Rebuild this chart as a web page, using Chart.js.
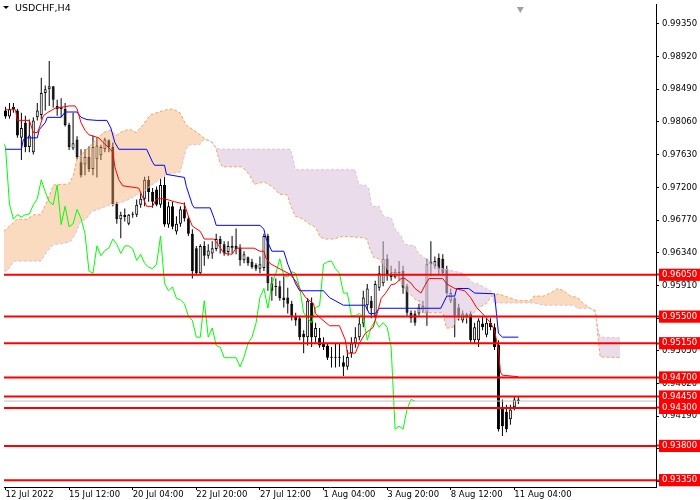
<!DOCTYPE html>
<html lang="en">
<head>
  <meta charset="UTF-8" />
  <title>USDCHF,H4</title>
  <script src="https://cdn.jsdelivr.net/npm/chart.js"></script>
  <style>
    body { margin: 0; background: #fff; }
    canvas { display: block; }
  </style>
</head>
<body>
  <canvas id="chart" width="700" height="500"></canvas>

  <script>
    const symbolTitle = 'USDCHF,H4';

    // H4 candles, bar index 0 = first visible bar
    const opens = [0.9821,0.9813,0.9823,0.9821,0.9785,0.9805,0.9773,0.9766,0.9812,0.9815,
      0.9844,0.9849,0.9853,0.9827,0.9823,0.9823,0.9802,0.9771,0.9783,0.9753,
      0.9750,0.9760,0.9744,0.9757,0.9762,0.9770,0.9782,0.9773,0.9698,0.9678,
      0.9684,0.9672,0.9684,0.9684,0.9697,0.9705,0.9730,0.9714,0.9717,0.9697,
      0.9723,0.9671,0.9695,0.9662,0.9672,0.9691,0.9679,0.9659,0.9640,0.9607,
      0.9643,0.9630,0.9633,0.9639,0.9652,0.9645,0.9635,0.9640,0.9643,0.9641,
      0.9624,0.9628,0.9622,0.9618,0.9613,0.9614,0.9656,0.9594,0.9590,0.9590,
      0.9575,0.9575,0.9567,0.9551,0.9548,0.9527,0.9523,0.9568,0.9523,0.9522,
      0.9516,0.9512,0.9497,0.9497,0.9497,0.9490,0.9484,0.9502,0.9515,0.9523,
      0.9541,0.9565,0.9571,0.9551,0.9588,0.9594,0.9626,0.9606,0.9602,0.9609,
      0.9610,0.9590,0.9555,0.9554,0.9554,0.9558,0.9555,0.9619,0.9617,0.9627,
      0.9626,0.9613,0.9571,0.9574,0.9562,0.9545,0.9553,0.9554,0.9519,0.9519,
      0.9541,0.9526,0.9542,0.9536,0.9513,0.9431,0.9425,0.9415,0.9431,0.9441];
    const highs = [0.9826,0.9831,0.9831,0.9823,0.9818,0.9814,0.9809,0.9812,0.9831,0.9864,
      0.9854,0.9886,0.9853,0.9835,0.9837,0.9831,0.9805,0.9818,0.9787,0.9770,
      0.9770,0.9774,0.9788,0.9785,0.9776,0.9785,0.9783,0.9779,0.9701,0.9688,
      0.9692,0.9685,0.9688,0.9704,0.9714,0.9734,0.9735,0.9719,0.9721,0.9732,
      0.9734,0.9701,0.9701,0.9682,0.9695,0.9700,0.9682,0.9665,0.9643,0.9645,
      0.9649,0.9645,0.9649,0.9659,0.9656,0.9649,0.9649,0.9656,0.9666,0.9645,
      0.9636,0.9629,0.9626,0.9620,0.9629,0.9659,0.9659,0.9602,0.9600,0.9597,
      0.9603,0.9588,0.9571,0.9555,0.9551,0.9532,0.9574,0.9575,0.9542,0.9535,
      0.9523,0.9515,0.9510,0.9515,0.9515,0.9499,0.9506,0.9523,0.9536,0.9551,
      0.9584,0.9593,0.9577,0.9597,0.9617,0.9649,0.9632,0.9617,0.9613,0.9623,
      0.9617,0.9593,0.9558,0.9558,0.9567,0.9571,0.9626,0.9649,0.9629,0.9633,
      0.9632,0.9617,0.9587,0.9576,0.9567,0.9558,0.9555,0.9557,0.9542,0.9548,
      0.9551,0.9548,0.9548,0.9541,0.9519,0.9441,0.9434,0.9434,0.9445,0.9445];
    const lows = [0.9810,0.9810,0.9818,0.9785,0.9756,0.9766,0.9766,0.9763,0.9808,0.9809,
      0.9821,0.9827,0.9825,0.9814,0.9812,0.9800,0.9769,0.9769,0.9757,0.9733,
      0.9736,0.9740,0.9736,0.9733,0.9756,0.9766,0.9766,0.9695,0.9672,0.9653,
      0.9675,0.9670,0.9680,0.9681,0.9693,0.9695,0.9701,0.9693,0.9695,0.9693,
      0.9668,0.9667,0.9665,0.9658,0.9668,0.9675,0.9656,0.9600,0.9606,0.9606,
      0.9617,0.9626,0.9626,0.9636,0.9633,0.9630,0.9630,0.9633,0.9632,0.9617,
      0.9620,0.9617,0.9613,0.9610,0.9607,0.9610,0.9584,0.9571,0.9577,0.9571,
      0.9562,0.9554,0.9545,0.9538,0.9519,0.9502,0.9512,0.9510,0.9516,0.9509,
      0.9506,0.9493,0.9483,0.9483,0.9484,0.9472,0.9480,0.9496,0.9509,0.9519,
      0.9536,0.9558,0.9548,0.9548,0.9584,0.9590,0.9597,0.9597,0.9600,0.9597,
      0.9580,0.9551,0.9542,0.9538,0.9551,0.9555,0.9538,0.9603,0.9613,0.9606,
      0.9603,0.9578,0.9568,0.9523,0.9545,0.9542,0.9541,0.9516,0.9515,0.9510,
      0.9532,0.9523,0.9532,0.9506,0.9399,0.9393,0.9398,0.9408,0.9427,0.9435];
    const closes = [0.9813,0.9823,0.9826,0.9788,0.9798,0.9773,0.9788,0.9808,0.9821,0.9844,
      0.9849,0.9853,0.9835,0.9823,0.9826,0.9802,0.9773,0.9778,0.9760,0.9736,
      0.9760,0.9744,0.9773,0.9775,0.9773,0.9783,0.9773,0.9698,0.9678,0.9684,
      0.9681,0.9684,0.9685,0.9697,0.9705,0.9730,0.9714,0.9701,0.9697,0.9723,
      0.9671,0.9695,0.9668,0.9672,0.9691,0.9679,0.9659,0.9610,0.9607,0.9643,
      0.9630,0.9637,0.9640,0.9652,0.9645,0.9633,0.9643,0.9643,0.9639,0.9624,
      0.9632,0.9620,0.9615,0.9613,0.9619,0.9656,0.9594,0.9584,0.9589,0.9574,
      0.9572,0.9567,0.9551,0.9545,0.9523,0.9523,0.9571,0.9523,0.9535,0.9512,
      0.9510,0.9496,0.9496,0.9496,0.9496,0.9484,0.9497,0.9515,0.9523,0.9541,
      0.9575,0.9587,0.9561,0.9593,0.9607,0.9626,0.9604,0.9602,0.9609,0.9607,
      0.9588,0.9555,0.9548,0.9542,0.9562,0.9564,0.9619,0.9622,0.9623,0.9613,
      0.9607,0.9581,0.9581,0.9551,0.9551,0.9554,0.9549,0.9519,0.9536,0.9545,
      0.9536,0.9542,0.9536,0.9510,0.9402,0.9406,0.9402,0.9428,0.9441,0.9439];

    // Ichimoku lines as [bar, price]
    const tenkan = [[0,0.9822],[2.5,0.9822],[3,0.9808],[6,0.9808],[7,0.9792],[8,0.9792],[8.5,0.9798],[9.5,0.9814],
      [10.5,0.9818],[12.5,0.9824],[15,0.9826],[16,0.9827],[17.5,0.9827],[18,0.9823],[19,0.9805],[20,0.9795],
      [21,0.9789],[23.5,0.9785],[24.5,0.9779],[26,0.9772],[27,0.9766],[27.5,0.9747],[28.5,0.9730],[29.5,0.9722],
      [33.5,0.9719],[35,0.9701],[35.5,0.9695],[37,0.9695],[38,0.9705],[40,0.9705],[42.5,0.9701],[45,0.9698],
      [46,0.9682],[47,0.9669],[49,0.9662],[50,0.9652],[52.5,0.9652],[55,0.9633],[57,0.9632],[58,0.9640],
      [62.5,0.9640],[64,0.9636],[65,0.9636],[65.5,0.9627],[66.5,0.9620],[67.5,0.9617],[70,0.9610],[71.5,0.9606],
      [73,0.9597],[74,0.9587],[75.5,0.9575],[77.5,0.9567],[78,0.9554],[79,0.9549],[81.5,0.9538],[84,0.9538],
      [85.5,0.9519],[86,0.9502],[88,0.9502],[89,0.9515],[90.5,0.9528],[92.5,0.9536],[93.5,0.9554],[94.5,0.9574],
      [95.5,0.9580],[97,0.9592],[98,0.9593],[99.5,0.9600],[100.5,0.9600],[102,0.9594],[103,0.9587],[104.5,0.9581],
      [105.5,0.9591],[106.5,0.9600],[110,0.9600],[111,0.9593],[113,0.9587],[115.5,0.9584],[117,0.9575],[118.5,0.9562],
      [120.5,0.9551],[122,0.9542],[123,0.9532],[124,0.9506],[124.5,0.9477],[125,0.9473],[129,0.9471]];
    const kijun = [[0,0.9770],[4,0.9770],[4.5,0.9783],[5,0.9785],[8,0.9785],[8.5,0.9796],[10,0.9805],[10.5,0.9812],
      [14,0.9812],[15,0.9819],[18,0.9819],[19,0.9812],[20.5,0.9809],[23,0.9808],[25.5,0.9808],[26.5,0.9798],
      [27.5,0.9779],[28.5,0.9770],[35.5,0.9770],[37,0.9753],[37.5,0.9749],[40,0.9749],[40.5,0.9737],[45,0.9733],
      [45.5,0.9721],[47,0.9697],[47.5,0.9693],[51.5,0.9693],[52.5,0.9679],[53,0.9670],[64,0.9670],[65,0.9665],
      [65.5,0.9653],[67,0.9636],[70,0.9636],[71,0.9619],[73,0.9593],[74,0.9584],[80,0.9584],[81.5,0.9575],
      [85,0.9565],[90.5,0.9565],[91.5,0.9554],[93,0.9554],[94,0.9561],[109.5,0.9561],[111,0.9577],[113,0.9577],
      [113.5,0.9587],[116.5,0.9587],[118,0.9581],[123,0.9580],[123.5,0.9554],[124,0.9528],[125,0.9523],[129,0.9523]];
    const senkouA = [[-0.4,0.9662],[1.4,0.9671],[2.9,0.9678],[5.4,0.9678],[7.1,0.9684],[8.9,0.9684],[10.4,0.9701],
      [12.1,0.9723],[13.9,0.9724],[15.9,0.9724],[17.1,0.9736],[17.9,0.9756],[19.6,0.9766],[21.4,0.9775],[22.9,0.9783],
      [24.6,0.9792],[26.4,0.9795],[27.9,0.9788],[28.9,0.9792],[30.1,0.9795],[31.4,0.9796],[32.9,0.9792],[34.6,0.9802],
      [36.4,0.9815],[40.4,0.9822],[42.1,0.9823],[43.9,0.9818],[45.4,0.9802],[47.1,0.9796],[48.9,0.9789],[50.4,0.9783],
      [52.1,0.9779],[52.9,0.9772],[53.9,0.9753],[54.6,0.9747],[59.6,0.9747],[61.4,0.9736],[62.6,0.9724],[65.1,0.9727],
      [67.1,0.9721],[68.9,0.9711],[70.9,0.9710],[71.6,0.9698],[72.9,0.9682],[74.6,0.9679],[76.4,0.9672],[77.9,0.9668],
      [79.1,0.9655],[80.4,0.9652],[82.9,0.9652],[83.9,0.9655],[86.4,0.9655],[89.6,0.9654],[90.9,0.9652],[91.6,0.9640],
      [92.6,0.9628],[93.9,0.9626],[95.9,0.9613],[97.6,0.9607],[99.1,0.9597],[100.9,0.9584],[103.4,0.9571],[104.1,0.9571],
      [105.1,0.9555],[110.1,0.9555],[110.9,0.9535],[111.6,0.9535],[112.6,0.9536],[113.4,0.9545],[114.6,0.9551],
      [115.9,0.9548],[117.6,0.9554],[119.1,0.9562],[120.9,0.9567],[122.1,0.9576],[123.9,0.9580],[128.9,0.9571],
      [132.1,0.9571],[132.9,0.9577],[135.4,0.9577],[137.1,0.9581],[138.9,0.9587],[140.4,0.9584],[142.1,0.9577],
      [143.9,0.9575],[145.4,0.9567],[147.1,0.9561],[148.4,0.9558],[149.1,0.9519],[149.6,0.9497],[154.6,0.9496]];
    const senkouB = [[-0.4,0.9610],[0.4,0.9610],[2.1,0.9623],[8.9,0.9623],[10.4,0.9636],[12.1,0.9645],[14.6,0.9646],
      [16.4,0.9649],[17.6,0.9659],[18.9,0.9675],[20.4,0.9679],[21.6,0.9688],[23.9,0.9692],[26.4,0.9697],[27.9,0.9698],
      [29.6,0.9701],[31.4,0.9705],[32.9,0.9710],[34.6,0.9714],[37.1,0.9724],[40.4,0.9737],[43.9,0.9740],[44.6,0.9753],
      [45.4,0.9770],[46.4,0.9776],[48.9,0.9776],[49.6,0.9782],[51.4,0.9782],[52.9,0.9772],[53.9,0.9770],[71.6,0.9770],
      [72.1,0.9762],[72.9,0.9743],[87.9,0.9743],[88.9,0.9723],[90.4,0.9723],[91.4,0.9718],[92.1,0.9695],[93.9,0.9695],
      [95.1,0.9682],[97.1,0.9679],[97.9,0.9666],[99.6,0.9655],[100.4,0.9645],[102.9,0.9643],[103.9,0.9633],[105.1,0.9628],
      [109.1,0.9614],[115.1,0.9607],[117.6,0.9594],[118.9,0.9593],[120.9,0.9587],[122.1,0.9584],[122.9,0.9568],
      [132.9,0.9568],[135.4,0.9565],[142.9,0.9565],[143.9,0.9561],[147.1,0.9561],[148.4,0.9555],[149.1,0.9532],
      [149.6,0.9523],[154.6,0.9522]];
    const chikouShift = 26;

    const levels = [0.96050, 0.95500, 0.95150, 0.94700, 0.94450, 0.94300, 0.93800, 0.93350];
    const bidPrice = 0.9439;
    const priceTicks = [0.99350, 0.98920, 0.98490, 0.98060, 0.97630, 0.97200, 0.96770, 0.96340,
      0.95910, 0.95480, 0.95050, 0.94620, 0.94190, 0.93760, 0.93330];
    const timeTickBars = [0, 16, 32, 48, 64, 80, 96, 112, 128];
    const timeTickLabels = ['12 Jul 2022', '15 Jul 12:00', '20 Jul 04:00', '22 Jul 20:00', '27 Jul 12:00',
      '1 Aug 04:00', '3 Aug 20:00', '8 Aug 12:00', '11 Aug 04:00'];
    const shiftMarker = [129.5, 0.99545];

    const toPt = ([x, y]) => ({ x, y });
    const isLevel = c => !!(c.tick && c.tick.level);

    const line = (data, color, order, extra) => Object.assign({
      type: 'line', data, borderColor: color, borderWidth: 1, pointRadius: 0,
      tension: 0, fill: false, order
    }, extra || {});

    const datasets = [
      // cloud: orange where span A is on top, thistle where span B is on top
      line(senkouA.map(toPt), '#F4A460', 10, {
        borderDash: [3, 2],
        fill: { target: 1, above: 'rgba(244,164,96,0.4)', below: 'rgba(216,191,216,0.55)' }
      }),
      line(senkouB.map(toPt), '#D8BFD8', 9, { borderDash: [3, 2] }),
      {
        type: 'bar', data: highs.map((h, i) => ({ x: i, y: [lows[i], h] })),
        backgroundColor: '#000', barThickness: 1, grouped: false, inflateAmount: 0, order: 12
      },
      {
        type: 'bar',
        data: opens.map((o, i) => ({ x: i, y: [Math.min(o, closes[i]), Math.max(o, closes[i])] })),
        backgroundColor: opens.map((o, i) => closes[i] >= o ? '#fff' : '#000'),
        borderColor: '#000', borderWidth: 1, borderSkipped: false, barThickness: 3,
        grouped: false, minBarLength: 1, inflateAmount: 0, order: 11
      },
      line(closes.map((c, i) => ({ x: i - chikouShift, y: c })), '#00FF00', 8),
      line(kijun.map(toPt), '#0000FF', 7),
      line(tenkan.map(toPt), '#FF0000', 6),
      line([{ x: -1, y: bidPrice }, { x: 170, y: bidPrice }], '#C0C0C0', 5),
      ...levels.map(v => line([{ x: -1, y: v }, { x: 170, y: v }], '#FF0000', 4, { borderWidth: 2 })),
      line([toPt(shiftMarker)], '#A0A0A0', 3, {
        showLine: false, pointRadius: 4, pointStyle: 'triangle', pointRotation: 180,
        pointBackgroundColor: '#A0A0A0', pointBorderWidth: 0, clip: false
      })
    ];

    const titlePlugin = {
      id: 'symbolTitle',
      afterDraw(chart) {
        const c = chart.ctx;
        c.save();
        c.fillStyle = '#000';
        c.beginPath();
        c.moveTo(3, 6); c.lineTo(9, 6); c.lineTo(6, 9);
        c.closePath();
        c.fill();
        c.font = '9.5px "DejaVu Sans"';
        c.fillText(symbolTitle, 15, 11);
        c.restore();
      }
    };

    const axisFont = { family: 'DejaVu Sans', size: 8.5, lineHeight: 1.2 };

    new Chart(document.getElementById('chart'), {
      type: 'bar',
      data: { datasets },
      plugins: [titlePlugin],
      options: {
        responsive: false,
        animation: false,
        devicePixelRatio: 1,
        layout: { padding: 0 },
        plugins: { legend: { display: false }, tooltip: { enabled: false } },
        scales: {
          x: {
            type: 'linear', min: -0.375, max: 163.625, offset: false,
            grid: { offset: false, drawOnChartArea: false, drawTicks: true, tickLength: 3, tickColor: '#000' },
            border: { display: true, color: '#000', width: 1 },
            ticks: {
              autoSkip: false, maxRotation: 0, align: 'start', padding: 0, color: '#000', font: axisFont,
              callback: v => timeTickLabels[timeTickBars.indexOf(v)]
            },
            afterBuildTicks: s => { s.ticks = timeTickBars.map(v => ({ value: v })); },
            afterFit: s => { s.height = 13; s.paddingLeft = 0; s.paddingRight = 0; }
          },
          y: {
            type: 'linear', position: 'right', min: 0.9326, max: 0.9961,
            grid: {
              drawOnChartArea: false, drawTicks: true, tickLength: 3,
              tickColor: c => isLevel(c) ? '#FF0000' : '#000',
              tickWidth: c => isLevel(c) ? 2 : 1
            },
            border: { display: true, color: '#000', width: 1 },
            ticks: {
              autoSkip: false, padding: 3, font: axisFont,
              color: c => isLevel(c) ? '#fff' : '#000',
              showLabelBackdrop: c => isLevel(c),
              backdropColor: '#FF0000',
              backdropPadding: { top: 1, bottom: 1, left: 3, right: 3 },
              callback: v => v.toFixed(5)
            },
            afterBuildTicks: s => {
              s.ticks = priceTicks.map(v => ({ value: v }))
                .concat(levels.map(v => ({ value: v, level: true })));
            },
            afterFit: s => { s.width = 44; s.paddingTop = 0; s.paddingBottom = 0; }
          }
        }
      }
    });
  </script>
</body>
</html>
